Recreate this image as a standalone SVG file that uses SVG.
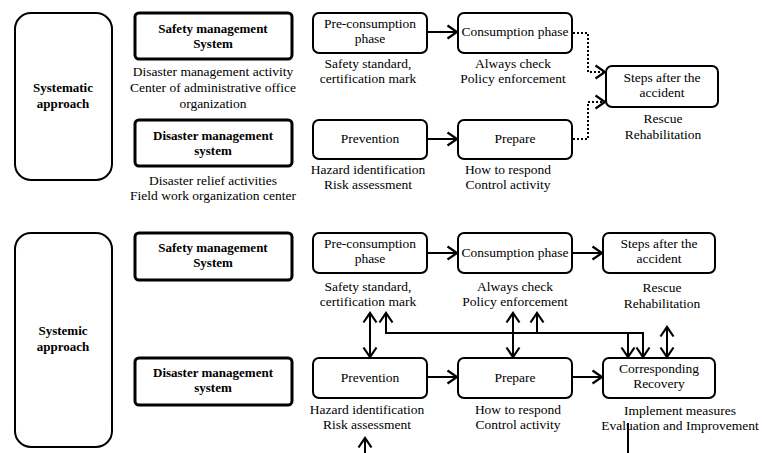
<svg xmlns="http://www.w3.org/2000/svg" width="762" height="453" viewBox="0 0 762 453" font-family="'Liberation Serif', 'DejaVu Serif', serif">
<style>
text{font-family:"Liberation Serif","DejaVu Serif",serif;font-size:13.5px;fill:#000;text-anchor:middle}
.b{font-weight:bold;font-size:13px}
.big{fill:#fff;stroke:#000;stroke-width:2}
.thick{fill:#fff;stroke:#000;stroke-width:3}
.box{fill:#fff;stroke:#000;stroke-width:2}
.c{fill:none;stroke:#000;stroke-width:2}
.d{fill:none;stroke:#000;stroke-width:2;stroke-dasharray:2,2}
</style>
<defs>
<marker id="ah" viewBox="0 0 13 16" refX="11" refY="8" markerWidth="13" markerHeight="16" markerUnits="userSpaceOnUse" orient="auto-start-reverse">
<path d="M1.5,1.5 L11,8 L1.5,14.5" fill="none" stroke="#000" stroke-width="2.2"/>
</marker>
</defs>

<g id="systematic"><rect class="big" x="15" y="13" width="97" height="167" rx="16"/><text class="b" x="63" y="92">Systematic</text><text class="b" x="63" y="108">approach</text></g>
<g id="sms1"><rect class="thick" x="135" y="13" width="157" height="46" rx="4"/><text class="b" x="213" y="33">Safety management</text><text class="b" x="213" y="48">System</text></g>
<g id="sms1-note"><text x="213" y="76">Disaster management activity</text><text x="213" y="92">Center of administrative office</text><text x="213" y="108">organization</text></g>
<g id="dms1"><rect class="thick" x="135" y="120" width="157" height="46" rx="4"/><text class="b" x="213" y="140">Disaster management</text><text class="b" x="213" y="155">system</text></g>
<g id="dms1-note"><text x="213" y="185">Disaster relief activities</text><text x="213" y="200">Field work organization center</text></g>

<g id="pre1"><rect class="box" x="313" y="13" width="114" height="40" rx="6"/><text x="370" y="28">Pre-consumption</text><text x="370" y="43">phase</text><text x="368" y="68">Safety standard,</text><text x="368" y="83">certification mark</text></g>
<g id="cons1"><rect class="box" x="458" y="13" width="114" height="40" rx="6"/><text x="515" y="36">Consumption phase</text><text x="513" y="68">Always check</text><text x="513" y="83">Policy enforcement</text></g>
<g id="steps1"><rect class="box" x="606" y="66" width="112" height="41" rx="6"/><text x="662" y="82">Steps after the</text><text x="662" y="97">accident</text><text x="663" y="123">Rescue</text><text x="663" y="139">Rehabilitation</text></g>
<g id="prev1"><rect class="box" x="313" y="120" width="114" height="39" rx="6"/><text x="370" y="143">Prevention</text><text x="368" y="174">Hazard identification</text><text x="368" y="189">Risk assessment</text></g>
<g id="prep1"><rect class="box" x="458" y="120" width="114" height="39" rx="6"/><text x="515" y="143">Prepare</text><text x="508" y="174">How to respond</text><text x="508" y="189">Control activity</text></g>

<g id="systemic"><rect class="big" x="15" y="233" width="97" height="214" rx="16"/><text class="b" x="63" y="335">Systemic</text><text class="b" x="63" y="351">approach</text></g>
<g id="sms2"><rect class="thick" x="135" y="233" width="157" height="47" rx="4"/><text class="b" x="213" y="252">Safety management</text><text class="b" x="213" y="267">System</text></g>
<g id="dms2"><rect class="thick" x="135" y="358" width="157" height="47" rx="4"/><text class="b" x="213" y="377">Disaster management</text><text class="b" x="213" y="392">system</text></g>

<g id="pre2"><rect class="box" x="313" y="233" width="114" height="40" rx="6"/><text x="370" y="248">Pre-consumption</text><text x="370" y="263">phase</text><text x="368" y="291">Safety standard,</text><text x="368" y="306">certification mark</text></g>
<g id="cons2"><rect class="box" x="458" y="233" width="114" height="40" rx="6"/><text x="515" y="257">Consumption phase</text><text x="515" y="291">Always check</text><text x="515" y="306">Policy enforcement</text></g>
<g id="steps2"><rect class="box" x="603" y="233" width="112" height="40" rx="6"/><text x="659" y="248">Steps after the</text><text x="659" y="263">accident</text><text x="662" y="292">Rescue</text><text x="662" y="308">Rehabilitation</text></g>
<g id="prev2"><rect class="box" x="313" y="358" width="114" height="40" rx="6"/><text x="370" y="382">Prevention</text><text x="367" y="414">Hazard identification</text><text x="367" y="429">Risk assessment</text></g>
<g id="prep2"><rect class="box" x="458" y="358" width="114" height="40" rx="6"/><text x="515" y="382">Prepare</text><text x="518" y="414">How to respond</text><text x="518" y="429">Control activity</text></g>
<g id="recov2"><rect class="box" x="603" y="358" width="112" height="40" rx="6"/><text x="659" y="373">Corresponding</text><text x="659" y="388">Recovery</text><text x="680" y="415">Implement measures</text><text x="680" y="430">Evaluation and Improvement</text></g>

<g id="connectors">
<line class="c" x1="427" y1="32" x2="457" y2="32" marker-end="url(#ah)"/>
<line class="c" x1="427" y1="139" x2="457" y2="139" marker-end="url(#ah)"/>
<polyline class="d" points="573,33 588,33 588,72 605,72" marker-end="url(#ah)"/>
<polyline class="d" points="573,139 588,139 588,102 605,102" marker-end="url(#ah)"/>

<line class="c" x1="427" y1="253" x2="457" y2="253" marker-end="url(#ah)"/>
<line class="c" x1="572" y1="253" x2="602" y2="253" marker-end="url(#ah)"/>
<line class="c" x1="427" y1="377" x2="457" y2="377" marker-end="url(#ah)"/>
<line class="c" x1="572" y1="377" x2="602" y2="377" marker-end="url(#ah)"/>

<line class="c" x1="370" y1="313" x2="370" y2="357" marker-start="url(#ah)" marker-end="url(#ah)"/>
<line class="c" x1="513" y1="313" x2="513" y2="357" marker-start="url(#ah)" marker-end="url(#ah)"/>
<line class="c" x1="667" y1="327" x2="667" y2="357" marker-start="url(#ah)" marker-end="url(#ah)"/>
<polyline class="c" points="643,357 643,333 386,333 386,313" marker-start="url(#ah)" marker-end="url(#ah)"/>
<line class="c" x1="628" y1="333" x2="628" y2="357" marker-end="url(#ah)"/>
<line class="c" x1="537" y1="333" x2="537" y2="313" marker-end="url(#ah)"/>
<line class="c" x1="365" y1="453" x2="365" y2="438" marker-end="url(#ah)"/>
<line class="c" x1="628" y1="423" x2="628" y2="453"/>
</g>
</svg>
